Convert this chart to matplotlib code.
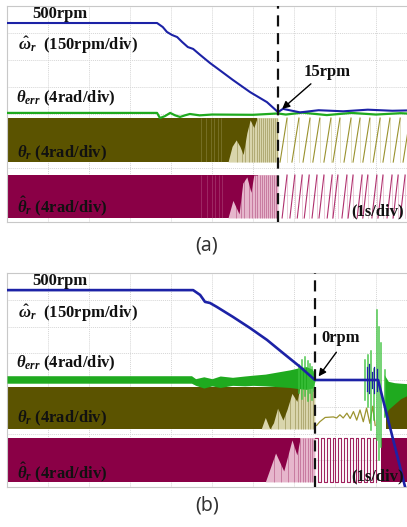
import matplotlib
matplotlib.use('Agg')
import matplotlib.pyplot as plt

plt.rcParams['mathtext.fontset'] = 'custom'
plt.rcParams['mathtext.rm'] = 'Liberation Serif:bold'
plt.rcParams['mathtext.it'] = 'Liberation Serif:italic:bold'
plt.rcParams['mathtext.bf'] = 'Liberation Serif:bold'

# ---------------- data (time in s = divisions, amplitude in divisions) -------------
# panel (a)
a_omega_t = [0, 3.66, 3.80, 3.90, 4.02, 4.15, 4.27, 4.41, 4.54, 4.71, 4.95, 5.12, 5.51,
             5.93, 6.34, 6.61, 6.73, 7.15, 7.6, 8.2, 8.8, 9.4, 10]
a_omega_y = [7.37, 7.37, 7.22, 7.04, 6.93, 6.85, 6.67, 6.48, 6.41, 6.19, 5.89, 5.70, 5.26,
             4.81, 4.44, 4.07, 4.19, 4.06, 4.14, 4.10, 4.16, 4.12, 4.14]
a_err_t = [0, 3.66, 3.73, 3.85, 3.98, 4.10, 4.22, 4.34, 4.46, 4.70, 5.0, 6.0, 6.61, 6.8,
           7.2, 7.8, 8.4, 9.0, 9.6, 10]
a_err_y = [4.04, 4.04, 3.85, 3.92, 4.04, 3.95, 3.89, 3.95, 4.0, 3.95, 3.98, 3.97, 4.02, 3.98,
           4.05, 3.96, 4.04, 3.98, 4.03, 4.0]
a_pos_band = (2.22, 3.85)
a_pos_fade_t = [5.30, 5.39, 5.49, 5.59, 5.68, 5.76, 5.85, 5.93, 6.02, 6.10, 6.61]
a_pos_fade_y = [2.22, 2.22, 2.80, 3.04, 2.80, 2.50, 3.30, 3.78, 3.50, 3.85, 3.85]
a_pos_streaks = [5.62, 5.72, 5.80, 5.90, 5.97, 6.03, 6.09, 6.14, 6.19, 6.24, 6.29, 6.34,
                 6.39, 6.44, 6.49, 6.54, 6.58]
a_pos_light = [4.72, 4.86, 4.97, 5.06, 5.14, 5.22]
a_pos_peaks = [6.83, 7.12, 7.39, 7.63, 7.90, 8.12, 8.39, 8.61, 8.85, 9.10, 9.34, 9.59, 9.83]
a_ang_band = (0.15, 1.74)
a_ang_fade_t = [5.30, 5.39, 5.51, 5.66, 5.75, 5.85, 5.95, 6.02, 6.12, 6.61]
a_ang_fade_y = [0.15, 0.15, 0.80, 0.30, 1.44, 1.67, 1.10, 1.74, 1.74, 1.74]
a_ang_streaks = [5.58, 5.70, 5.78, 5.90, 5.98, 6.04, 6.10, 6.16, 6.21, 6.26, 6.31, 6.36,
                 6.41, 6.46, 6.51, 6.56]
a_ang_light = [4.74, 4.88, 4.99, 5.08, 5.16, 5.24]
a_ang_peaks = [6.83, 7.02, 7.20, 7.37, 7.56, 7.73, 7.93, 8.07, 8.29, 8.44, 8.66, 8.80,
               9.02, 9.17, 9.39, 9.54, 9.71, 9.90]
a_t_dash = 6.61

# panel (b)
b_omega_t = [0, 4.54, 4.71, 4.83, 4.95, 5.12, 5.51, 5.93, 6.34, 6.73, 7.15, 7.51, 8.0,
             8.5, 9.05, 9.71, 9.95]
b_omega_y = [7.36, 7.36, 7.18, 6.92, 6.88, 6.73, 6.36, 5.94, 5.50, 5.01, 4.49, 4.0, 4.0,
             4.0, 4.0, 0.0, -1.5]
b_omega_spikes = [(8.78, 3.6, 4.5), (8.84, 3.5, 4.6), (8.90, 3.7, 4.3), (8.96, 3.5, 4.5),
                  (9.02, 3.6, 4.4)]
b_err_t = [0, 4.50, 4.60, 4.80, 5.00, 5.20, 5.50, 5.80, 6.00, 6.30, 6.60, 6.90, 7.10,
           7.30, 7.45, 7.51]
b_err_hi = [4.16, 4.16, 4.05, 4.12, 4.05, 4.15, 4.10, 4.15, 4.18, 4.22, 4.30, 4.38, 4.45,
            4.50, 4.40, 4.05]
b_err_lo = [3.88, 3.88, 3.80, 3.70, 3.78, 3.72, 3.80, 3.78, 3.80, 3.78, 3.75, 3.72, 3.68,
            3.65, 3.70, 3.95]
b_err_spikes = [(7.12, 3.50, 4.55), (7.20, 3.30, 4.75), (7.27, 3.40, 4.86), (7.33, 3.20, 4.70),
                (7.39, 3.50, 4.60), (7.44, 3.25, 4.50), (7.49, 3.60, 4.30),
                (8.73, 3.25, 4.75), (8.81, 2.99, 4.93), (8.89, 2.13, 5.10), (8.95, 2.50, 4.40),
                (9.02, 1.76, 6.60), (9.07, 1.01, 5.98), (9.13, 1.50, 5.38), (9.21, 2.62, 4.37)]
b_err_decay_t = [9.20, 9.30, 9.45, 9.60, 9.80, 10.0]
b_err_decay_hi = [4.20, 3.95, 3.90, 3.88, 3.86, 3.85]
b_err_decay_lo = [2.60, 2.90, 3.10, 3.30, 3.45, 3.60]
b_pos_band = (2.17, 3.74)
b_pos_fade_t = [6.00, 6.20, 6.30, 6.41, 6.50, 6.60, 6.73, 6.83, 6.95, 7.07, 7.15, 7.51]
b_pos_fade_y = [2.17, 2.17, 2.60, 2.17, 2.40, 2.95, 2.50, 2.90, 3.50, 3.20, 3.74, 3.74]
b_pos_streaks = [6.45, 6.62, 6.78, 6.90, 7.02, 7.10, 7.16, 7.22, 7.28, 7.34, 7.40, 7.46]
b_pos_zig_t = [7.55, 7.63, 7.76, 7.96, 8.04, 8.12, 8.20, 8.29, 8.37, 8.45, 8.53, 8.61, 8.69,
               8.77, 8.85, 8.92, 8.98]
b_pos_zig_y = [2.30, 2.44, 2.60, 2.62, 2.58, 2.70, 2.58, 2.76, 2.56, 2.82, 2.50, 2.88, 2.44,
               2.95, 2.38, 3.02, 2.30]
b_pos_back = 9.25
b_ang_band = (0.19, 1.83)
b_ang_fade_t = [6.00, 6.30, 6.55, 6.75, 6.95, 7.07, 7.15, 7.51]
b_ang_fade_y = [0.19, 0.19, 1.27, 0.60, 1.76, 1.20, 1.83, 1.83]
b_ang_streaks = [6.50, 6.68, 6.85, 7.00, 7.09, 7.15, 7.21, 7.27, 7.33, 7.39, 7.45]
b_ang_edges = [7.59, 7.66, 7.73, 7.80, 7.87, 7.94, 8.01, 8.08, 8.15, 8.22, 8.29, 8.36,
               8.43, 8.50, 8.57, 8.64, 8.71, 8.78, 8.85, 8.92, 8.99]
b_ang_back = 9.12
b_t_dash = 7.51

# ---------------- styling -------------
BLUE = '#1c22a6'
GREEN = '#1faa1f'
OLIVE = '#5b5300'
OLIVE_L = '#d9d5ac'
MAG = '#8a0046'
MAG_L = '#e6b6cc'
GRID = '#d6d6d6'

W, H = 407, 527
fig = plt.figure(figsize=(W / 100, H / 100), dpi=100)


def fx(px):
    return px / W


def fy(py):
    return 1 - py / H


def make_ax(top, bottom):
    ax = fig.add_axes([fx(7), fy(bottom), fx(417) - fx(7), fy(top) - fy(bottom)])
    ax.set_xlim(0, 10)
    ax.set_ylim(0, 8)
    ax.set_xticks(range(11))
    ax.set_yticks(range(9))
    ax.grid(True, color=GRID, lw=0.7, ls=(0, (1, 1)))
    ax.tick_params(length=0, labelbottom=False, labelleft=False)
    for s in ax.spines.values():
        s.set_color('#c8c8c8')
        s.set_linewidth(0.8)
    ax.set_axisbelow(True)
    return ax


def band(ax, t0, t1, lo, hi, dark, light, fade_t=None, fade_y=None, streaks=(), lights=()):
    ax.fill_between([t0, t1], lo, hi, color=dark, lw=0, zorder=2)
    if fade_t is None:
        return
    ax.fill_between(fade_t, lo, fade_y, color=light, lw=0, zorder=2.1)
    ax.fill_between([fade_t[-2], t1], lo, hi, color=light, lw=0, zorder=2.1)
    ax.vlines(lights, lo, hi, color=light, lw=0.5, alpha=0.3, zorder=2.15)
    ax.vlines(streaks, lo, hi, color=dark, lw=0.6, alpha=0.38, zorder=2.2)


def saw(ax, peaks, lo, hi, width, color, light):
    for p in peaks:
        ax.plot([p - width, p], [lo, hi], color=color, lw=0.8, zorder=3)
        ax.plot([p, p], [hi, lo], color=light, lw=0.5, zorder=2.9)


# ---------------- panel (a) -------------
axa = make_ax(6, 222)
band(axa, 0, a_t_dash, *a_pos_band, OLIVE, OLIVE_L, a_pos_fade_t, a_pos_fade_y,
     a_pos_streaks, a_pos_light)
band(axa, 0, a_t_dash, *a_ang_band, MAG, MAG_L, a_ang_fade_t, a_ang_fade_y,
     a_ang_streaks, a_ang_light)
saw(axa, a_pos_peaks, *a_pos_band, 0.17, '#9a922e', OLIVE_L)
saw(axa, a_ang_peaks, *a_ang_band, 0.12, '#b0306e', MAG_L)
axa.plot(a_err_t, a_err_y, color=GREEN, lw=1.6, zorder=4)
axa.plot(a_omega_t, a_omega_y, color=BLUE, lw=1.5, zorder=5)
axa.axvline(a_t_dash, color='#111111', lw=1.6, ls=(0, (5, 3)), zorder=6)
axa.annotate('', xy=(a_t_dash + 0.05, 4.12), xytext=(fx(313), fy(82)),
             textcoords='figure fraction',
             arrowprops=dict(arrowstyle='-|>', color='k', lw=1.0, mutation_scale=11),
             zorder=7)

# ---------------- panel (b) -------------
axb = make_ax(273, 487)
band(axb, 0, b_t_dash, *b_pos_band, OLIVE, OLIVE_L, b_pos_fade_t, b_pos_fade_y, b_pos_streaks)
band(axb, 0, b_t_dash, *b_ang_band, MAG, MAG_L, b_ang_fade_t, b_ang_fade_y, b_ang_streaks)
band(axb, b_pos_back, 10, *b_pos_band, OLIVE, OLIVE_L)
band(axb, b_ang_back, 10, *b_ang_band, MAG, MAG_L)
axb.plot(b_pos_zig_t, b_pos_zig_y, color='#9c9430', lw=0.9, zorder=3)
sq_x, sq_y = [b_t_dash], [b_ang_band[1]]
for i, e in enumerate(b_ang_edges):
    lvl = b_ang_band[0] if i % 2 == 0 else b_ang_band[1]
    sq_x += [e, e]
    sq_y += [sq_y[-1], lvl]
axb.plot(sq_x, sq_y, color='#a0225e', lw=0.8, zorder=3)
axb.fill_between(b_err_t, b_err_lo, b_err_hi, color=GREEN, lw=0, zorder=4)
axb.fill_between(b_err_decay_t, b_err_decay_lo, b_err_decay_hi, color=GREEN, lw=0, zorder=4)
for t, lo, hi in b_err_spikes:
    axb.plot([t, t], [lo, hi], color='#3cc23c', lw=1.1, alpha=0.9, zorder=4)
axb.plot([b_t_dash, 9.05], [4.0, 4.0], color=GREEN, lw=1.2, zorder=4)
axb.plot(b_omega_t, b_omega_y, color=BLUE, lw=1.9, zorder=5)
for t, lo, hi in b_omega_spikes:
    axb.plot([t, t], [lo, hi], color=BLUE, lw=0.9, zorder=5)
axb.axvline(b_t_dash, color='#111111', lw=1.6, ls=(0, (5, 3)), zorder=6)
axb.annotate('', xy=(b_t_dash + 0.05, 4.05), xytext=(fx(338), fy(350)),
             textcoords='figure fraction',
             arrowprops=dict(arrowstyle='-|>', color='k', lw=1.0, mutation_scale=11),
             zorder=7)

# ---------------- text -------------
tk = dict(fontfamily='Liberation Serif', fontweight='bold', fontsize=12, color='#111111',
          va='center', zorder=10)
for dy in (0, 267):
    fig.text(fx(32), fy(14 + dy), '500rpm', **tk)
fig.text(fx(18), fy(45), r'$\hat{\omega}_r$  (150rpm/div)', **tk)
fig.text(fx(18), fy(313), r'$\hat{\omega}_r$  (150rpm/div)', **tk)
fig.text(fx(16), fy(98), r'$\theta_{err}$ (4rad/div)', **tk)
fig.text(fx(16), fy(363), r'$\theta_{err}$ (4rad/div)', **tk)
fig.text(fx(17), fy(153), r'$\theta_r$ (4rad/div)', **tk)
fig.text(fx(17), fy(418), r'$\theta_r$ (4rad/div)', **tk)
fig.text(fx(17), fy(206), r'$\hat{\theta}_r$ (4rad/div)', **tk)
fig.text(fx(17), fy(472), r'$\hat{\theta}_r$ (4rad/div)', **tk)
fig.text(fx(404), fy(211), '(1s/div)', ha='right', **tk)
fig.text(fx(404), fy(476), '(1s/div)', ha='right', **tk)
fig.text(fx(327), fy(72), '15rpm', ha='center', **tk)
fig.text(fx(341), fy(338), '0rpm', ha='center', **tk)

cap = dict(fontfamily='Noto Sans', fontsize=14, color='#333333', ha='center', va='center')
fig.text(fx(207), fy(246), '(a)', **cap)
fig.text(fx(207), fy(505), '(b)', **cap)

fig.savefig('out.png', dpi=100, facecolor='white')
